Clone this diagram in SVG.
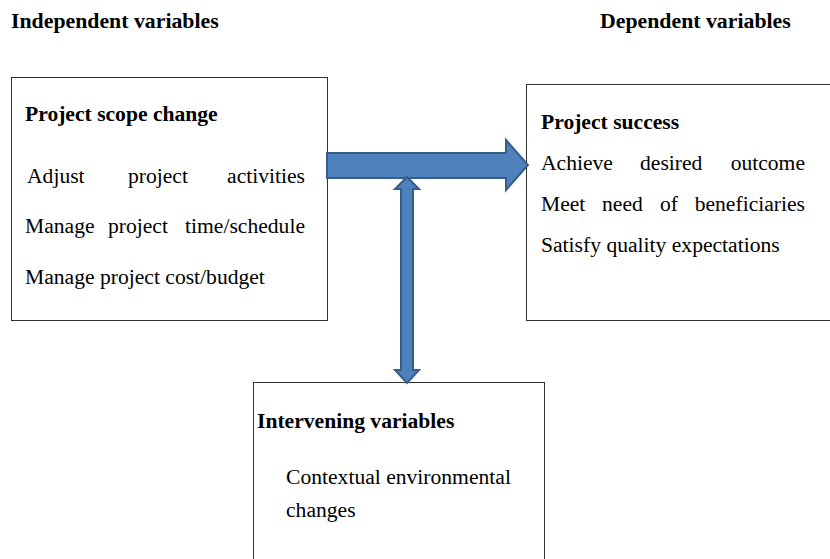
<svg xmlns="http://www.w3.org/2000/svg" width="830" height="559" viewBox="0 0 830 559">
<style>
text{font-family:"Liberation Serif","Times New Roman",serif;font-size:21.6px;fill:#000}
.b{font-weight:bold}
.h{font-weight:bold;font-size:21.8px}
.e{text-anchor:end}
.box{fill:#fff;stroke:#333;stroke-width:1}
.arr{fill:#4f81bd;stroke:#385d8a;stroke-width:2;stroke-linejoin:miter}
</style>
<rect width="830" height="559" fill="#fff"/>
<text class="h" x="11" y="28">Independent variables</text>
<text class="h" x="600" y="28">Dependent variables</text>
<g id="scope">
<rect class="box" x="11.5" y="77.5" width="316" height="243"/>
<text class="b" x="25" y="121">Project scope change</text>
<text x="27" y="183">Adjust</text><text x="128" y="183">project</text><text class="e" x="305" y="183">activities</text>
<text x="25" y="233">Manage</text><text x="108" y="233">project</text><text class="e" x="305" y="233">time/schedule</text>
<text x="25" y="284">Manage project cost/budget</text>
</g>
<g id="success">
<rect class="box" x="526.5" y="84.5" width="310" height="236"/>
<text class="b" x="541" y="129">Project success</text>
<text x="541" y="170">Achieve</text><text x="640" y="170">desired</text><text class="e" x="805" y="170">outcome</text>
<text x="541" y="211">Meet</text><text x="602" y="211">need</text><text x="660" y="211">of</text><text class="e" x="805" y="211">beneficiaries</text>
<text x="541" y="252">Satisfy quality expectations</text>
</g>
<g id="intervening">
<rect class="box" x="253.5" y="382.5" width="291" height="190"/>
<text class="b" x="257" y="428">Intervening variables</text>
<text x="286" y="484">Contextual environmental</text>
<text x="286" y="517">changes</text>
</g>
<g id="connectors">
<path class="arr" d="M327,153 H506 V140 L528,165 L506,190 V178 H327 Z"/>
<path class="arr" d="M407,177 L419,189 H413 V370 H419 L407,383 L395,370 H401 V189 H395 Z"/>
</g>
</svg>
